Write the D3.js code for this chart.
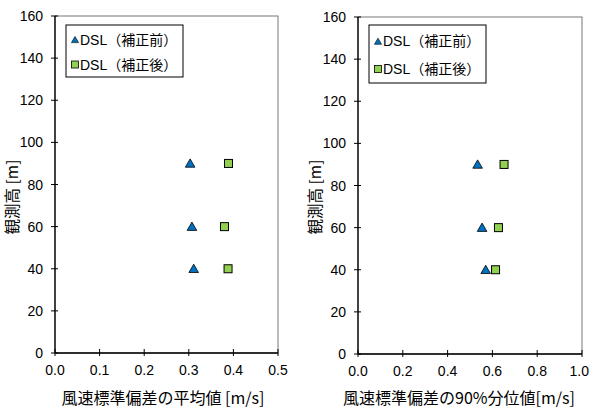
<!DOCTYPE html>
<html>
<head>
<meta charset="utf-8">
<script src="https://cdn.jsdelivr.net/npm/d3@7"></script>
<style>
  body { margin: 0; background: #fff; }
  text { font-family: "Liberation Sans", Arial, "Noto Sans CJK JP", sans-serif; }
</style>
</head>
<body>
<div id="chart"></div>
<script>
// heights (m)
var heights = [90, 60, 40];
// left panel: mean of wind speed std
var meanBefore = [0.303, 0.307, 0.311];
var meanAfter = [0.389, 0.380, 0.388];
// right panel: 90th percentile of wind speed std
var p90Before = [0.534, 0.554, 0.570];
var p90After = [0.652, 0.627, 0.614];
var yTicks = [0, 20, 40, 60, 80, 100, 120, 140, 160];
var xTicksLeft = [0, 0.1, 0.2, 0.3, 0.4, 0.5];
var xTicksRight = [0, 0.2, 0.4, 0.6, 0.8, 1.0];
var seriesNames = ["DSL（補正前）", "DSL（補正後）"];

var width = 590, height = 411;
var blue = "#0070c0", green = "#92d050";

var svg = d3.select("#chart").append("svg")
  .attr("width", width)
  .attr("height", height);

function drawPanel(opts) {
  var x = d3.scaleLinear().domain(opts.xDomain).range([opts.left, opts.right]);
  var y = d3.scaleLinear().domain([0, 160]).range([opts.bottom, opts.top]);
  var g = svg.append("g");

  // plot frame
  g.append("rect")
    .attr("x", opts.left).attr("y", opts.top)
    .attr("width", opts.right - opts.left)
    .attr("height", opts.bottom - opts.top)
    .attr("fill", "none").attr("stroke", "#777").attr("stroke-width", 1);

  // axes (cross ticks)
  g.append("line")
    .attr("x1", opts.left).attr("x2", opts.right)
    .attr("y1", opts.bottom).attr("y2", opts.bottom)
    .attr("stroke", "#000").attr("stroke-width", 1.3);
  g.append("line")
    .attr("x1", opts.left).attr("x2", opts.left)
    .attr("y1", opts.top).attr("y2", opts.bottom)
    .attr("stroke", "#000").attr("stroke-width", 1.3);

  g.selectAll(".xt").data(opts.xTicks).enter().append("line")
    .attr("x1", d => x(d)).attr("x2", d => x(d))
    .attr("y1", opts.bottom - 4).attr("y2", opts.bottom + 3)
    .attr("stroke", "#000");
  g.selectAll(".xl").data(opts.xTicks).enter().append("text")
    .attr("x", d => x(d)).attr("y", opts.bottom + 22)
    .attr("text-anchor", "middle").attr("font-size", 14)
    .text(d => d.toFixed(1))
    .each(function(d) {
      // keep the last label inside the window
      var w = this.getComputedTextLength();
      if (x(d) + w / 2 > width - 1) d3.select(this).attr("x", width - 1 - w / 2);
    });

  g.selectAll(".yt").data(yTicks).enter().append("line")
    .attr("x1", opts.left - 4).attr("x2", opts.left + 3)
    .attr("y1", d => y(d)).attr("y2", d => y(d))
    .attr("stroke", "#000");
  g.selectAll(".yl").data(yTicks).enter().append("text")
    .attr("x", opts.left - 12).attr("y", d => y(d) + 5)
    .attr("text-anchor", "end").attr("font-size", 14)
    .text(d => d);

  // axis titles
  g.append("text")
    .attr("x", opts.xTitleX).attr("y", 404)
    .attr("text-anchor", "middle").attr("font-size", 16)
    .style("font-family", "'Noto Sans CJK JP', sans-serif")
    .text(opts.xTitle);
  g.append("text")
    .attr("transform", "translate(" + opts.yTitleX + ",197) rotate(-90)")
    .attr("text-anchor", "middle").attr("font-size", 15.5)
    .attr("dy", "0.35em")
    .style("font-family", "'Noto Sans CJK JP', sans-serif")
    .text("観測高 [m]");

  // markers
  var tri = d3.symbol().type(d3.symbolTriangle).size(40);
  g.selectAll(".tri").data(heights).enter().append("path")
    .attr("d", tri)
    .attr("transform", (d, i) => "translate(" + x(opts.before[i]) + "," + (y(d) + 1) + ")")
    .attr("fill", blue).attr("stroke", "#000").attr("stroke-width", 0.8);
  g.selectAll(".sq").data(heights).enter().append("rect")
    .attr("x", (d, i) => x(opts.after[i]) - 4)
    .attr("y", d => y(d) - 4)
    .attr("width", 8).attr("height", 8)
    .attr("fill", green).attr("stroke", "#000").attr("stroke-width", 1);

  // legend
  var lg = g.append("g");
  lg.append("rect")
    .attr("x", opts.legX).attr("y", 25)
    .attr("width", 117).attr("height", opts.legH)
    .attr("fill", "#fff").attr("stroke", "#000").attr("stroke-width", 1);
  var row1 = 25 + opts.legH * 0.28, row2 = 25 + opts.legH * 0.76;
  lg.append("path")
    .attr("d", d3.symbol().type(d3.symbolTriangle).size(22))
    .attr("transform", "translate(" + (opts.legX + 9) + "," + (row1 + 1) + ")")
    .attr("fill", blue).attr("stroke", "#000").attr("stroke-width", 0.6);
  lg.append("rect")
    .attr("x", opts.legX + 5.5).attr("y", row2 - 3.5)
    .attr("width", 7).attr("height", 7)
    .attr("fill", green).attr("stroke", "#000").attr("stroke-width", 0.8);
  [row1, row2].forEach(function(r, i) {
    lg.append("text")
      .attr("x", opts.legX + 14).attr("y", r + 5)
      .attr("font-size", 14)
      .style("font-family", "'Liberation Sans', 'Noto Sans CJK JP', sans-serif")
      .text(seriesNames[i]);
  });
}

drawPanel({
  left: 55, right: 278, top: 16, bottom: 353,
  xDomain: [0, 0.5], xTicks: xTicksLeft,
  before: meanBefore, after: meanAfter,
  xTitle: "風速標準偏差の平均値 [m/s]", xTitleX: 163, yTitleX: 13,
  legX: 66, legH: 52
});
drawPanel({
  left: 358, right: 582, top: 17, bottom: 354,
  xDomain: [0, 1.0], xTicks: xTicksRight,
  before: p90Before, after: p90After,
  xTitle: "風速標準偏差の90%分位値[m/s]", xTitleX: 459, yTitleX: 316,
  legX: 369, legH: 58
});
</script>
</body>
</html>
